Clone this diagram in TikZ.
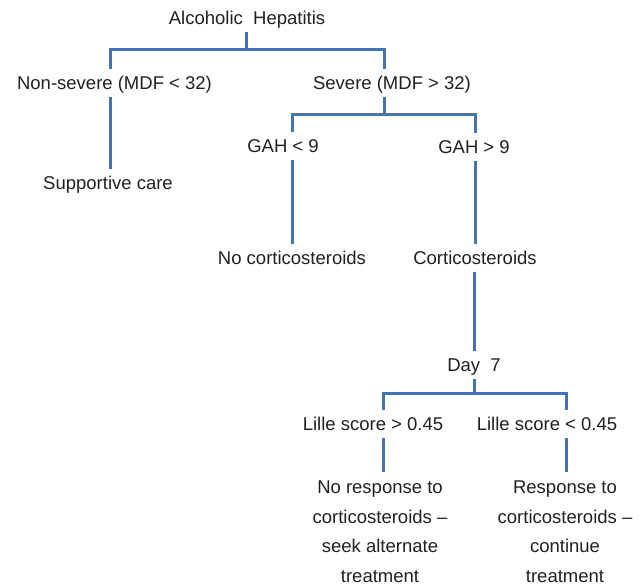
\documentclass[tikz,border=0pt]{standalone}
\usepackage{fontspec}
\setmainfont{Liberation Sans}
\definecolor{linkblue}{RGB}{70,116,172}
\definecolor{txt}{RGB}{35,31,32}
\begin{document}
\begin{tikzpicture}[x=1pt,y=-1pt,
  lbl/.style={font=\fontsize{18.5}{29.5}\selectfont, text=txt, inner xsep=0pt,
    inner ysep=7.35pt, text height=13.3pt, text depth=0pt},
  multi/.style={font=\fontsize{18.5}{29.5}\selectfont, text=txt, inner xsep=0pt,
    inner ysep=9pt, align=center, anchor=north},
  link/.style={draw=linkblue, line width=3pt}]
\useasboundingbox (0,0) rectangle (639,585);
% nodes
\node[lbl] (AH) at (247,18) {Alcoholic\ \ Hepatitis};
\node[lbl] (NS) at (114.5,83) {Non-severe (MDF < 32)};
\node[lbl] (S) at (392,83) {Severe (MDF > 32)};
\node[lbl] (SC) at (108,183) {Supportive care};
\node[lbl] (G1) at (283,146) {GAH < 9};
\node[lbl] (G2) at (474,147) {GAH > 9};
\node[lbl] (NC) at (292,258) {No corticosteroids};
\node[lbl] (C) at (475,258) {Corticosteroids};
\node[lbl] (D7) at (474,365) {Day\ \ 7};
\node[lbl] (L1) at (373,424) {Lille score > 0.45};
\node[lbl] (L2) at (547,424) {Lille score < 0.45};
\node[multi] (R1) at (380,472) {No response to\\corticosteroids --\\seek alternate\\treatment};
\node[multi] (R2) at (565,472) {Response to\\corticosteroids --\\continue\\treatment};
% junction coordinates
\coordinate (b1) at (246,50);
\coordinate (b1L) at (110,50);
\coordinate (b1R) at (384,50);
\coordinate (b2) at (384,115);
\coordinate (b2L) at (292,115);
\coordinate (b2R) at (475,115);
\coordinate (b3) at (474,393);
\coordinate (b3L) at (383,393);
\coordinate (b3R) at (566,393);
% connectors
\draw[link] (AH.south -| b1) -- (b1);
\draw[link] (NS.north -| b1L) -- (b1L) -- (b1R) -- (S.north -| b1R);
\draw[link] (NS.south -| b1L) -- (SC.north -| b1L);
\draw[link] (S.south -| b2) -- (b2);
\draw[link] (G1.north -| b2L) -- (b2L) -- (b2R) -- (G2.north -| b2R);
\draw[link] (G1.south -| b2L) -- (NC.north -| b2L);
\draw[link] (G2.south -| b2R) -- (C.north -| b2R);
\draw[link] (C.south -| b3) -- (D7.north -| b3);
\draw[link] (D7.south -| b3) -- (b3);
\draw[link] (L1.north -| b3L) -- (b3L) -- (b3R) -- (L2.north -| b3R);
\draw[link] (L1.south -| b3L) -- (R1.north -| b3L);
\draw[link] (L2.south -| b3R) -- (R2.north -| b3R);
\end{tikzpicture}
\end{document}
